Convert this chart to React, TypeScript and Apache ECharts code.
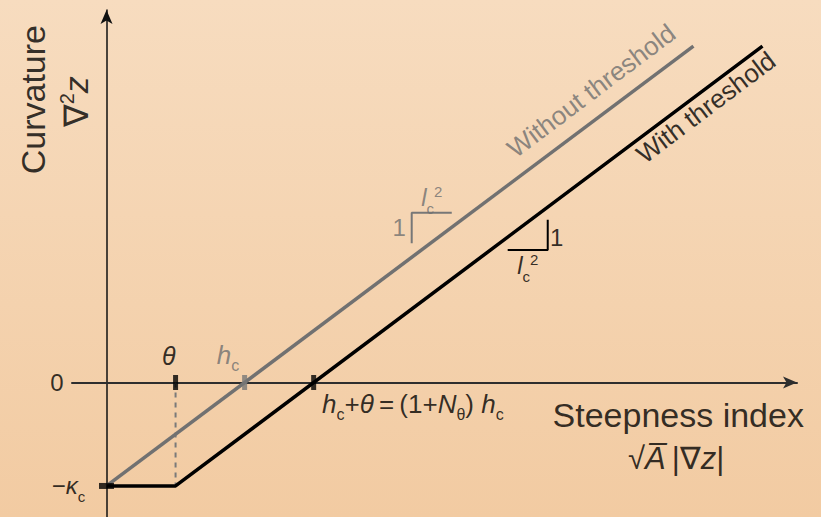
import React, { useEffect, useRef } from 'react';
import * as echarts from 'echarts';

// Dimensionless units: θ = 1, h_c = 2, κ_c = 1.5 (slope κ_c / h_c = 1 / l_c²)
const xExtent = [-0.5, 10];
const yExtent = [-1.95, 5.4];

const withoutThreshold = [[0, -1.5], [8.5, 4.875]];
const withThreshold = [[0, -1.5], [1, -1.5], [9.5, 4.875]];
const thetaGuide = [[1, 0], [1, -1.5]];
const blackTicks = [[1, 0], [3, 0]];
const grayTicks = [[2, 0]];
const kappaTick = [[0, -1.5]];
const slopeGray = [[4.42, 2.02], [4.42, 2.46], [5.0, 2.46]];
const slopeBlack = [[5.81, 1.92], [6.39, 1.92], [6.39, 2.36]];

const GRAY = '#6f6f6f';
const INK = '#000000';
const FONT = '"Liberation Sans", Arial, Helvetica, sans-serif';

type Note = {
  at: [number, number];
  text: string;
  color?: string;
  rotate?: number;
  anchor?: 'center' | 'left';
};

const notes: Note[] = [
  { at: [-1.07, 4.1], text: '{t34|Curvature}', rotate: 90 },
  { at: [-0.44, 4.07], text: '{t34|∇}{p34|2}{i34|z}', rotate: 90 },
  { at: [8.28, -0.47], text: '{t34|Steepness index}' },
  { at: [8.25, -1.1], text: '{t31|√}{i31|A\u0305}{t31|\u2009|∇}{i31|z}{t31||}' },
  { at: [0.9, 0.39], text: '{i25|θ}' },
  { at: [1.76, 0.4], text: '{i26|h}{s26|c}', color: GRAY },
  { at: [-0.72, 0], text: '{t24|0}' },
  { at: [-0.55, -1.5], text: '{t24|−}{i24|κ}{s24|c}' },
  {
    at: [3.12, -0.31],
    text:
      '{i26|h}{s26|c}{t26|+}{i26|θ}{t26|\u2009=\u2009}{t26|(1+}{i26|N}{s26|θ}{t26|) }{i26|h}{s26|c}',
    anchor: 'left',
  },
  { at: [7.02, 4.23], text: '{t26|Without threshold}', color: GRAY, rotate: 37 },
  { at: [8.68, 3.99], text: '{t26|With threshold}', rotate: 37 },
  { at: [4.24, 2.24], text: '{t24|1}', color: GRAY },
  { at: [4.71, 2.68], text: '{i24|l}{s24|c}{p24|2}', color: GRAY },
  { at: [6.52, 2.1], text: '{t24|1}' },
  { at: [6.1, 1.69], text: '{i24|l}{s24|c}{p24|2}' },
];

const rich: Record<string, any> = {
  t34: { fontSize: 34, lineHeight: 38, verticalAlign: 'middle' },
  i34: { fontSize: 34, lineHeight: 38, fontStyle: 'italic', verticalAlign: 'middle' },
  p34: { fontSize: 20, lineHeight: 20, verticalAlign: 'top' },
  t31: { fontSize: 31, lineHeight: 36, verticalAlign: 'middle' },
  i31: { fontSize: 31, lineHeight: 36, fontStyle: 'italic', verticalAlign: 'middle' },
  t26: { fontSize: 26, lineHeight: 30, verticalAlign: 'middle' },
  i26: { fontSize: 26, lineHeight: 30, fontStyle: 'italic', verticalAlign: 'middle' },
  s26: { fontSize: 16, lineHeight: 16, verticalAlign: 'top', padding: [18, 0, 0, 0] },
  i25: { fontSize: 25, lineHeight: 29, fontStyle: 'italic', verticalAlign: 'middle' },
  t24: { fontSize: 24, lineHeight: 28, verticalAlign: 'middle' },
  i24: { fontSize: 24, lineHeight: 28, fontStyle: 'italic', verticalAlign: 'middle' },
  s24: { fontSize: 15, lineHeight: 15, verticalAlign: 'top', padding: [17, 0, 0, 0] },
  p24: { fontSize: 15, lineHeight: 15, verticalAlign: 'top' },
};

const plainLine = (data: number[][], color: string, width: number, extra: any = {}) => ({
  type: 'line',
  data,
  symbol: 'none',
  silent: true,
  lineStyle: { color, width, ...(extra.lineStyle || {}) },
  z: extra.z ?? 2,
});

export default function App() {
  const ref = useRef<HTMLDivElement>(null);

  useEffect(() => {
    if (!ref.current) return;
    const chart = echarts.init(ref.current, undefined, { renderer: 'svg' });

    chart.setOption({
      animation: false,
      backgroundColor: 'transparent',
      grid: { left: 72, top: 10, width: 725, height: 507, containLabel: false },
      xAxis: {
        type: 'value',
        min: xExtent[0],
        max: xExtent[1],
        axisLine: {
          onZero: true,
          symbol: ['none', 'arrow'],
          symbolSize: [9, 14],
          lineStyle: { color: '#2e2e2e', width: 2 },
        },
        axisTick: { show: false },
        axisLabel: { show: false },
        splitLine: { show: false },
      },
      yAxis: {
        type: 'value',
        min: yExtent[0],
        max: yExtent[1],
        axisLine: {
          onZero: true,
          symbol: ['none', 'arrow'],
          symbolSize: [9, 14],
          lineStyle: { color: '#111111', width: 1.5 },
        },
        axisTick: { show: false },
        axisLabel: { show: false },
        splitLine: { show: false },
      },
      series: [
        plainLine(withoutThreshold, '#717171', 3.5, { z: 2 }),
        plainLine(withThreshold, INK, 3.5, { z: 3 }),
        plainLine(thetaGuide, '#7a7a7a', 2, { lineStyle: { type: [5, 5] }, z: 1 }),
        plainLine(slopeGray, '#777777', 2),
        plainLine(slopeBlack, INK, 2),
        {
          type: 'scatter',
          data: blackTicks,
          symbol: 'rect',
          symbolSize: [5, 15],
          itemStyle: { color: INK },
          silent: true,
          z: 5,
        },
        {
          type: 'scatter',
          data: grayTicks,
          symbol: 'rect',
          symbolSize: [5, 15],
          itemStyle: { color: '#777777' },
          silent: true,
          z: 5,
        },
        {
          type: 'scatter',
          data: kappaTick,
          symbol: 'rect',
          symbolSize: [15, 6],
          itemStyle: { color: INK },
          silent: true,
          z: 5,
        },
        {
          type: 'scatter',
          clip: false,
          silent: true,
          symbolSize: 0.1,
          itemStyle: { color: 'transparent' },
          z: 6,
          label: {
            show: true,
            position: 'inside',
            fontFamily: FONT,
            color: INK,
            textBorderWidth: 0,
            formatter: (p: any) => notes[p.dataIndex].text,
            rich,
          },
          data: notes.map((n) => ({
            value: n.at,
            label: {
              color: n.color || INK,
              rotate: n.rotate || 0,
              position: n.anchor === 'left' ? 'right' : 'inside',
              distance: 0,
            },
          })),
        },
      ],
    });

    return () => chart.dispose();
  }, []);

  return (
    <div
      ref={ref}
      style={{
        position: 'fixed',
        left: 0,
        top: 0,
        width: 821,
        height: 517,
        background: 'linear-gradient(180deg, #f7dcbf 0%, #f2cba2 100%)',
      }}
    />
  );
}
